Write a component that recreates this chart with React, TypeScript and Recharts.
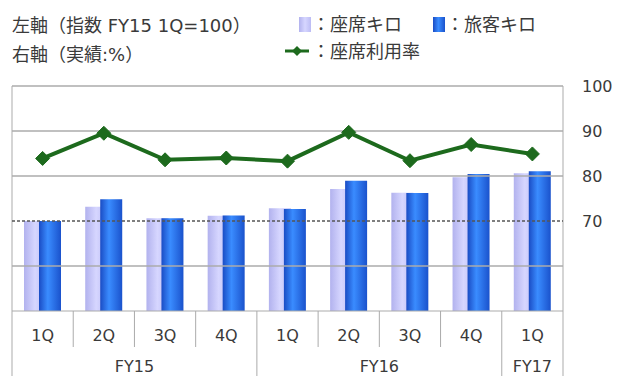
import {
  ComposedChart, Bar, Line, XAxis, YAxis, CartesianGrid, ReferenceLine,
} from "recharts";

const quarters = ["1Q", "2Q", "3Q", "4Q", "1Q", "2Q", "3Q", "4Q", "1Q"];
const fiscalYears = ["FY15", "FY15", "FY15", "FY15", "FY16", "FY16", "FY16", "FY16", "FY17"];
// index, FY15 1Q = 100
const seatKm = [100, 115.9, 103, 105.9, 114.1, 135.6, 131.5, 148.5, 153];
const passengerKm = [100, 124.1, 103, 106, 113.3, 144.8, 131.1, 152.2, 155.2];
// load factor, %
const loadFactor = [83.9, 89.5, 83.6, 84, 83.3, 89.7, 83.4, 87, 84.9];
const rightTicks = [70, 80, 90, 100];
const rightGrid = [60, 80, 90, 100];

const data = quarters.map((q, i) => ({
  key: `${fiscalYears[i]}-${q}`,
  quarter: q,
  fy: fiscalYears[i],
  seatKm: seatKm[i],
  passengerKm: passengerKm[i],
  loadFactor: loadFactor[i],
}));

const FONT = '"DejaVu Sans", "Noto Sans CJK JP", sans-serif';
const TEXT = "#3a3a3a";
const GREEN = "#1d6a1d";
const BORDER = "#ababab";

// two-row category axis: quarter labels, then fiscal year groups
function QuarterTick(props: any) {
  const { x, y, payload, index, width, visibleTicksCount } = props;
  const band = width / visibleTicksCount;
  const top = y;
  const bottom = 376;
  const d = data[index];
  const next = data[index + 1];
  const lastOfYear = !next || next.fy !== d.fy;
  const firstOfYear = index === 0 || data[index - 1].fy !== d.fy;
  let fyLabel = null;
  if (firstOfYear) {
    const count = data.filter((r) => r.fy === d.fy).length;
    fyLabel = (
      <text x={x + ((count - 1) * band) / 2} y={top + 61} textAnchor="middle"
        fontSize={16} fill={TEXT} fontFamily={FONT}>{d.fy}</text>
    );
  }
  return (
    <g>
      <text x={x} y={top + 30} textAnchor="middle" fontSize={16} fill={TEXT} fontFamily={FONT}>
        {payload.value}
      </text>
      {index === 0 && (
        <line x1={x - band / 2} x2={x - band / 2} y1={top} y2={bottom} stroke={BORDER} />
      )}
      <line x1={x + band / 2} x2={x + band / 2} y1={top}
        y2={lastOfYear ? bottom : top + 36} stroke={BORDER} />
      {fyLabel}
    </g>
  );
}

function Diamond(props: any) {
  const { cx, cy } = props;
  if (cx == null || cy == null) return null;
  const r = 7;
  return (
    <path d={`M${cx},${cy - r} L${cx + r},${cy} L${cx},${cy + r} L${cx - r},${cy} Z`}
      fill={GREEN} stroke={GREEN} />
  );
}

function Legend() {
  return (
    <svg width={618} height={80} style={{ position: "absolute", left: 0, top: 0, pointerEvents: "none" }}>
      <defs>
        <linearGradient id="leg-seat" x1="0" y1="0" x2="1" y2="0">
          <stop offset="0%" stopColor="#b2b2ee" />
          <stop offset="50%" stopColor="#d6d6ff" />
          <stop offset="100%" stopColor="#bcbcf4" />
        </linearGradient>
        <linearGradient id="leg-pass" x1="0" y1="0" x2="1" y2="0">
          <stop offset="0%" stopColor="#1a4cc4" />
          <stop offset="45%" stopColor="#3a8cff" />
          <stop offset="100%" stopColor="#1a52cc" />
        </linearGradient>
      </defs>
      <g fontFamily={FONT} fontSize={18} fill={TEXT}>
        <text x={12} y={32}>左軸（指数 FY15 1Q=100）</text>
        <text x={12} y={61}>右軸（実績:%）</text>
        <rect x={299} y={17} width={12} height={15} fill="url(#leg-seat)" />
        <text x={312} y={31}>：座席キロ</text>
        <rect x={433} y={17} width={12} height={15} fill="url(#leg-pass)" />
        <text x={446} y={31}>：旅客キロ</text>
        <line x1={285} x2={309} y1={51} y2={51} stroke={GREEN} strokeWidth={3} />
        <path d="M297,46 L302,51 L297,56 L292,51 Z" fill={GREEN} />
        <text x={312} y={58}>：座席利用率</text>
      </g>
    </svg>
  );
}

export default function App() {
  return (
    <div style={{ position: "fixed", left: 0, top: 0, width: 618, height: 376, background: "#fff" }}>
      <ComposedChart
        width={618}
        height={376}
        data={data}
        margin={{ top: 86, right: 0, left: 12, bottom: 0 }}
        barSize={22}
        barGap={-7}
      >
        <defs>
          <linearGradient id="grad-seat" x1="0" y1="0" x2="1" y2="0">
            <stop offset="0%" stopColor="#b2b2ee" />
            <stop offset="50%" stopColor="#d6d6ff" />
            <stop offset="100%" stopColor="#bcbcf4" />
          </linearGradient>
          <linearGradient id="grad-pass" x1="0" y1="0" x2="1" y2="0">
            <stop offset="0%" stopColor="#1a4cc4" />
            <stop offset="40%" stopColor="#3a8cff" />
            <stop offset="100%" stopColor="#1a52cc" />
          </linearGradient>
        </defs>
        <CartesianGrid
          horizontal={false}
          stroke={BORDER}
          verticalCoordinatesGenerator={({ offset }: any) => [offset.left, offset.left + offset.width]}
        />
        <XAxis
          dataKey="quarter"
          height={65}
          interval={0}
          tickLine={false}
          tickSize={0}
          tickMargin={0}
          axisLine={{ stroke: BORDER }}
          tick={<QuarterTick />}
        />
        <YAxis yAxisId="left" hide domain={[0, 250]} />
        <YAxis
          yAxisId="right"
          orientation="right"
          width={55}
          domain={[50, 100]}
          ticks={rightTicks}
          axisLine={false}
          tickLine={false}
          tickMargin={13}
          tick={{ fill: TEXT, fontSize: 16, fontFamily: FONT, textAnchor: "start" }}
        />
        {rightGrid.map((v) => (
          <ReferenceLine key={v} yAxisId="right" y={v} stroke={BORDER} strokeWidth={1.5} />
        ))}
        <Bar yAxisId="left" dataKey="seatKm" fill="url(#grad-seat)" isAnimationActive={false} />
        <Bar yAxisId="left" dataKey="passengerKm" fill="url(#grad-pass)" isAnimationActive={false} />
        <ReferenceLine yAxisId="left" y={100} stroke="#555" strokeDasharray="3 2" strokeWidth={1.5} />
        <Line
          yAxisId="right"
          dataKey="loadFactor"
          stroke={GREEN}
          strokeWidth={4}
          dot={<Diamond />}
          activeDot={false}
          isAnimationActive={false}
        />
      </ComposedChart>
      <Legend />
    </div>
  );
}
